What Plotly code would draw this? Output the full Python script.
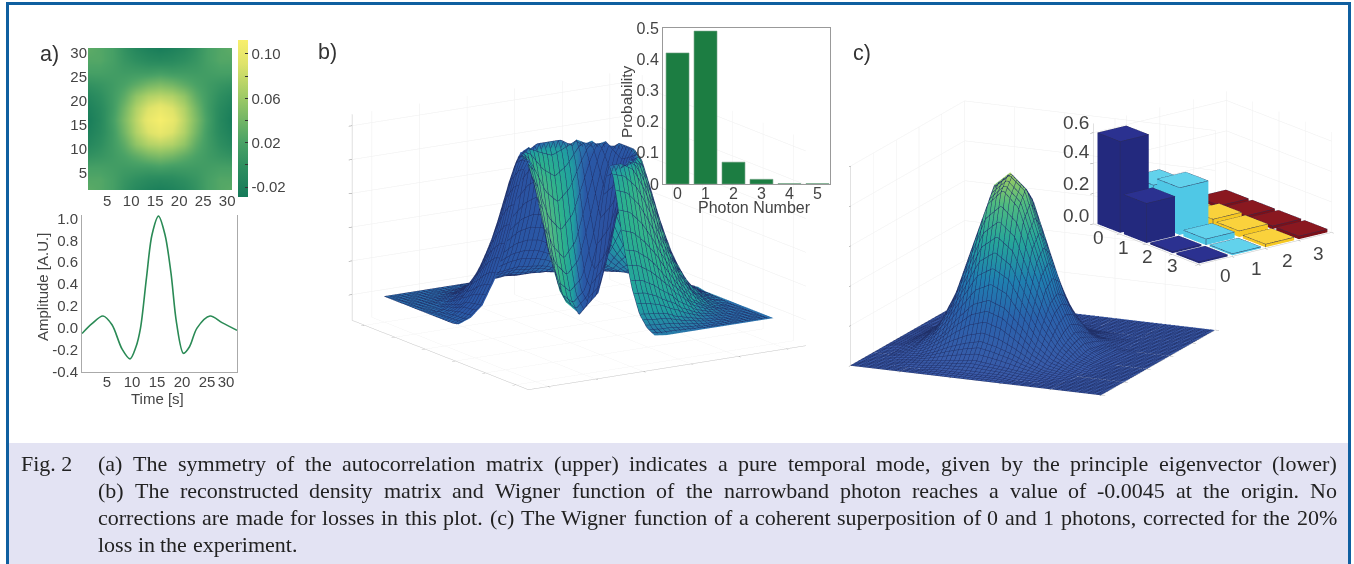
import numpy as np
import plotly.graph_objects as go

W, H = 1354, 564
def px(x): return x / W
def py(y): return 1 - y / H

# ---------- data ----------
heat_axis = [1, 3.5, 6, 8.5, 11, 13.5, 16, 18.5, 21, 23.5, 26, 28.5, 31]
heat_quadrant = [
    [.11, .10, .075, .045, .015, -.01, -.025],
    [.10, .09, .07, .04, .012, -.008, -.02],
    [.075, .07, .055, .03, .012, -.002, -.012],
    [.045, .04, .03, .02, .012, .006, .002],
    [.015, .012, .012, .012, .015, .018, .018],
    [-.01, -.008, -.002, .006, .018, .025, .025],
    [-.025, -.02, -.012, .002, .018, .025, .03],
]
time_s = [0, 2, 4.2, 6, 8, 9.6, 10.8, 11.7, 12.9, 14, 15.3, 16.6, 17.8, 18.9, 20.3, 21.5, 23, 25.6, 28, 31]
amplitude = [-.05, .04, .11, .03, -.19, -.28, -.17, 0, .46, .85, 1.02, .85, .5, .05, -.23, -.17, .0, .11, .05, -.02]
photon_number = [0, 1, 2, 3, 4, 5]
probability = [.42, .49, .07, .015, .001, .001]

# Wigner function of panel b: one quadrant, rotationally symmetric in the picture
wigner_b_nodes = [0, .5, 1, 1.25, 1.5, 1.75, 2, 2.25, 2.5, 2.75, 3, 3.5, 4, 4.5, 5]
wigner_b_quadrant = [
    [-.05, .03, .28, .50, .72, .90, 1.0, .94, .80, .64, .49, .26, .11, .04, .01],
    [.03, .10, .38, .59, .79, .94, 1.0, .91, .77, .61, .47, .25, .10, .03, 0],
    [.28, .38, .66, .80, .93, 1.0, .95, .82, .68, .53, .41, .21, .09, .03, 0],
    [.50, .59, .80, .91, .98, .98, .88, .75, .61, .48, .37, .18, .08, .02, 0],
    [.72, .79, .93, .98, .99, .91, .80, .67, .54, .43, .32, .16, .06, .02, 0],
    [.90, .94, 1.0, .98, .91, .81, .70, .58, .46, .36, .27, .14, .05, .01, 0],
    [1.0, 1.0, .95, .88, .80, .70, .59, .48, .39, .30, .22, .10, .04, .01, 0],
    [.94, .91, .82, .75, .67, .58, .48, .40, .32, .24, .18, .08, .03, 0, 0],
    [.80, .77, .68, .61, .54, .46, .39, .32, .25, .18, .14, .06, .02, 0, 0],
    [.64, .61, .53, .48, .43, .36, .30, .24, .18, .14, .09, .04, .01, 0, 0],
    [.49, .47, .41, .37, .32, .27, .22, .18, .14, .09, .07, .03, .01, 0, 0],
    [.26, .25, .21, .18, .16, .14, .10, .08, .06, .04, .03, .01, 0, 0, 0],
    [.11, .10, .09, .08, .06, .05, .04, .03, .02, .01, .01, 0, 0, 0, 0],
    [.04, .03, .03, .02, .02, .01, .01, 0, 0, 0, 0, 0, 0, 0, 0],
    [.01, 0, 0, 0, 0, 0, 0, 0, 0, 0, 0, 0, 0, 0, 0],
]

wigner_c_axis = [0, .0625, .125, .1875, .25, .3125, .375, .4375, .5, .5625, .625, .6875, .75, .8125, .875, .9375, 1]
wigner_c = [
    [0] * 17,
    [0, 0, 0, 0, 0, .01, .01, .01, .01, .01, 0, 0, 0, 0, 0, 0, 0],
    [0, 0, 0, .01, .02, .03, .04, .05, .04, .03, .02, .01, 0, 0, 0, 0, 0],
    [0, 0, .01, .02, .05, .09, .12, .14, .12, .09, .05, .02, .01, 0, 0, 0, 0],
    [0, 0, .02, .05, .11, .20, .28, .31, .28, .20, .11, .05, .02, 0, 0, 0, 0],
    [0, .01, .03, .09, .20, .35, .51, .57, .51, .35, .20, .09, .03, .01, 0, 0, 0],
    [0, .01, .04, .12, .28, .51, .74, .82, .74, .51, .28, .12, .04, .01, 0, 0, 0],
    [0, .01, .05, .14, .31, .57, .82, .89, .82, .57, .31, .14, .05, .01, 0, 0, 0],
    [0, .01, .04, .12, .28, .51, .74, .82, .74, .51, .28, .12, .04, .01, 0, 0, 0],
    [0, .01, .03, .09, .20, .35, .51, .57, .51, .35, .20, .09, .03, .01, 0, 0, 0],
    [0, 0, .02, .05, .11, .20, .28, .31, .28, .20, .11, .05, .02, 0, 0, 0, 0],
    [0, 0, .01, .02, .05, .09, .12, .14, .12, .09, .05, .02, .01, 0, 0, 0, 0],
    [0, 0, 0, .01, .02, .03, .04, .05, .04, .03, .02, .01, 0, 0, 0, 0, 0],
    [0, 0, 0, 0, 0, .01, .01, .01, .01, .01, 0, 0, 0, 0, 0, 0, 0],
    [0] * 17,
    [0] * 17,
    [0] * 17,
]

density_labels = [0, 1, 2, 3]
density_c = [
    [.60, .26, .02, .02],
    [.26, .31, .05, .02],
    [.01, .04, .04, .02],
    [.01, .01, .02, .02],
]
column_colors = ["#23297e", "#4fc8e6", "#f6c822", "#7c1018"]
top_colors = ["#2b3190", "#62d2ec", "#fad23c", "#8a1820"]

caption = [
    "(a) The symmetry of the autocorrelation matrix (upper) indicates a pure temporal mode, given by the principle eigenvector (lower)",
    "(b) The reconstructed density matrix and Wigner function of the narrowband photon reaches a value of -0.0045 at the origin. No",
    "corrections are made for losses in this plot. (c) The Wigner function of a coherent superposition of 0 and 1 photons, corrected for the 20%",
    "loss in the experiment.",
]

TIMES = dict(a=.444, b=.5, c=.444, d=.5, e=.444, f=.333, g=.5, h=.5, i=.278, j=.278, k=.5, l=.278, m=.778, n=.5, o=.5,
             p=.5, q=.5, r=.333, s=.389, t=.278, u=.5, v=.5, w=.722, x=.5, y=.5, z=.444, T=.611, N=.722, W=.944)
TIMES.update({"(": .333, ")": .333, ",": .25, ".": .25, "-": .333, "%": .833, " ": .25})
TIMES.update({d: .5 for d in "0123456789"})


def mirror(q):
    q = np.array(q, dtype=float)
    return np.vstack([np.hstack([q[::-1, ::-1][:-1, :-1], q[::-1][:-1]]),
                      np.hstack([q[:, ::-1][:, :-1], q])])


def box_axis(rng, ticks, line="#c4c4c4"):
    return dict(range=rng, tickvals=ticks, showticklabels=False, title=dict(text=""),
                showbackground=False, showgrid=True, gridcolor="#eeeeee", gridwidth=1,
                showline=True, linecolor=line, linewidth=1, zeroline=False,
                ticks="outside", ticklen=4, tickcolor="#888888", showspikes=False)


def view(eye):
    return dict(eye=dict(x=eye[0], y=eye[1], z=eye[2]), center=dict(x=0, y=0, z=0),
                up=dict(x=0, y=0, z=1), projection=dict(type="orthographic"))


FLAT = dict(ambient=1, diffuse=0, specular=0, roughness=1, fresnel=0)
TXT = "#444444"
SANS = "Liberation Sans"

fig = go.Figure()

# ---------- a) heat map ----------
fig.add_trace(go.Heatmap(
    x=heat_axis, y=heat_axis, z=mirror(heat_quadrant), zsmooth="best", zmin=-.029, zmax=.1126,
    colorscale=[[0, "#157a59"], [.2, "#2f8f60"], [.35, "#4aa266"], [.63, "#9cc966"], [.85, "#dfe36a"], [1, "#f8ef6c"]],
    xaxis="x", yaxis="y", hoverinfo="skip",
    colorbar=dict(thickness=10, thicknessmode="pixels", len=157, lenmode="pixels",
                  x=px(238), xanchor="left", y=py(118.5), yanchor="middle", xpad=0, ypad=0,
                  outlinewidth=0, tickmode="array",
                  tickvals=[.10, .08, .06, .04, .02, 0, -.02],
                  ticktext=["0.10", " ", "0.06", " ", "0.02", " ", "-0.02"],
                  ticks="inside", ticklen=3, tickcolor="#333333",
                  tickfont=dict(family=SANS, size=15, color=TXT)),
))

# ---------- a) temporal mode ----------
fig.add_trace(go.Scatter(x=time_s, y=amplitude, mode="lines", xaxis="x2", yaxis="y2",
                         line=dict(color="#2a8a55", width=1.6, shape="spline", smoothing=.9),
                         hoverinfo="skip"))

# ---------- b) inset bars ----------
fig.add_trace(go.Bar(x=photon_number, y=probability, width=.82, xaxis="x3", yaxis="y3",
                     marker=dict(color="#1c7d42", line=dict(color="#6f9f82", width=.6)), hoverinfo="skip"))

# ---------- b) surface ----------
z_b = mirror(wigner_b_quadrant)
ax_b = np.array([-n for n in wigner_b_nodes[:0:-1]] + wigner_b_nodes)
dz_dy, dz_dx = np.gradient(z_b, ax_b, ax_b)
EYE_B = np.array([.817, -.519, .25])
slope = -(dz_dx * .536 + dz_dy * .844)
shade = np.clip(slope / .75, -1, 1)
z_b_cut = z_b.copy()
shade_cut = shade.copy()
mask = np.ix_(ax_b < 0, ax_b > 0)
z_b_cut[mask] = np.nan
shade_cut[mask] = np.nan
mesh = "#203068"
fig.add_trace(go.Surface(
    x=ax_b, y=ax_b, z=z_b_cut, surfacecolor=shade_cut, cmin=-1, cmax=1, showscale=False, scene="scene",
    colorscale=[[0, "#2b4f9e"], [.42, "#2a58a6"], [.5, "#2a6fab"], [.6, "#20a0a0"], [.78, "#2db38c"], [1, "#58bb82"]],
    lighting=FLAT, hoverinfo="skip",
    contours=dict(x=dict(show=True, start=-5, end=5, size=.2, color=mesh, width=1),
                  y=dict(show=True, start=-5, end=5, size=.2, color=mesh, width=1)),
))

# ---------- c) surface ----------
fig.add_trace(go.Surface(
    x=wigner_c_axis, y=wigner_c_axis, z=wigner_c, cmin=0, cmax=.89, showscale=False, scene="scene2",
    colorscale=[[0, "#3a5aa8"], [.25, "#2a62ac"], [.45, "#1f80b0"], [.65, "#25a59a"], [.85, "#4fbb80"], [1, "#a0cc60"]],
    lighting=FLAT, hoverinfo="skip",
    contours=dict(x=dict(show=True, start=0, end=1, size=1 / 56, color=mesh, width=1),
                  y=dict(show=True, start=0, end=1, size=1 / 56, color=mesh, width=1)),
))

# ---------- c) inset 3-D bars ----------
ex, ey, ez = [], [], []
half = .43
for a, row in zip(density_labels, density_c):
    for b, h in zip(density_labels, row):
        x0, x1, y0, y1 = a - half, a + half, b - half, b + half
        faces = [column_colors[b]] * 8 + [top_colors[b]] * 2 + [column_colors[b]] * 2
        fig.add_trace(go.Mesh3d(
            x=[x0, x1, x1, x0, x0, x1, x1, x0], y=[y0, y0, y1, y1, y0, y0, y1, y1], z=[0, 0, 0, 0, h, h, h, h],
            i=[0, 0, 1, 1, 2, 2, 3, 3, 4, 4, 0, 0], j=[1, 5, 2, 6, 3, 7, 0, 4, 5, 6, 1, 2], k=[5, 4, 6, 5, 7, 6, 4, 7, 6, 7, 2, 3],
            facecolor=faces, flatshading=True, lighting=FLAT, hoverinfo="skip", scene="scene3"))
        for px0, py0, px1, py1 in [(x0, y0, x1, y0), (x1, y0, x1, y1), (x1, y1, x0, y1), (x0, y1, x0, y0)]:
            ex += [px0, px1, None]; ey += [py0, py1, None]; ez += [h, h, None]
        ex += [x1, x1, None]; ey += [y0, y0, None]; ez += [0, h, None]
fig.add_trace(go.Scatter3d(x=ex, y=ey, z=ez, mode="lines", line=dict(color="#2a2a50", width=1),
                           hoverinfo="skip", scene="scene3"))

# ---------- text ----------
ann = []
def label(x, y, text, size=15, color=TXT, family=SANS, anchor="center", angle=0):
    ann.append(dict(xref="paper", yref="paper", x=px(x), y=py(y), text=text, showarrow=False,
                    xanchor=anchor, yanchor="middle", textangle=angle, borderpad=0, borderwidth=0,
                    font=dict(family=family, size=size, color=color)))

label(49, 54, "a)", 21.5, "#333333")
label(327, 52, "b)", 21.5, "#333333")
label(862, 53, "c)", 21.5, "#333333")
label(42, 287, "Amplitude [A.U.]", 15, angle=-90)
label(157, 398, "Time [s]", 15)
label(627, 102, "Probability", 15.5, angle=-90)
label(754, 207, "Photon Number", 16)

for i, t in enumerate(density_labels):
    label([1098, 1123, 1147, 1172][i], [237, 247, 256, 265][i], str(t), 19)
    label([1225, 1256, 1287, 1318][i], [275, 268, 260, 253][i], str(t), 19)
for val, y0 in zip(["0.6", "0.4", "0.2", "0.0"], [122, 152, 183, 215]):
    label(1063, y0, val, 19, anchor="left")

SERIF = "Liberation Serif"
CAP = 22
label(21, 463, "Fig. 2", CAP, "#222222", SERIF, "left")
for li, (t, y0) in enumerate(zip(caption, [463, 490, 517, 544])):
    words = t.split(" ")
    widths = [sum(TIMES[c] for c in w) * CAP for w in words]
    gap = (1239 - sum(widths)) / (len(words) - 1) if li < 3 else .25 * CAP
    x = 98.0
    for w, wd in zip(words, widths):
        label(x, y0, w, CAP, "#222222", SERIF, "left")
        x += wd + gap

axis_font = dict(family=SANS, size=15, color=TXT)
bar_font = dict(family=SANS, size=16, color=TXT)

fig.update_layout(
    width=W, height=H, margin=dict(l=0, r=0, t=0, b=0, autoexpand=False), autosize=False,
    paper_bgcolor="white", plot_bgcolor="white", showlegend=False, hovermode=False,
    annotations=ann,
    shapes=[
        dict(type="rect", xref="paper", yref="paper", x0=px(9), x1=px(1349), y0=py(564), y1=py(443),
             fillcolor="#e3e3f3", line=dict(width=0), layer="below"),
        dict(type="rect", xref="paper", yref="paper", x0=px(7.5), x1=px(1349.5), y0=py(566), y1=py(3.5),
             fillcolor="rgba(0,0,0,0)", line=dict(color="#0f5fa0", width=3), layer="above"),
    ],
    xaxis=dict(domain=[px(88), px(232)], range=[1, 31], tickvals=[5, 10, 15, 20, 25, 30], ticks="",
               showgrid=False, zeroline=False, tickfont=axis_font, anchor="y"),
    yaxis=dict(domain=[py(190), py(48)], range=[1.4, 31], tickvals=[5, 10, 15, 20, 25, 30], ticks="",
               showgrid=False, zeroline=False, tickfont=axis_font, anchor="x"),
    xaxis2=dict(domain=[px(82), px(237)], range=[0, 31], tickvals=[5, 10, 15, 20, 25, 28.8],
                ticktext=["5", "10", "15", "20", "25", "30"], showgrid=False, zeroline=False, ticklabelstandoff=-4,
                showline=True, linecolor="#aaaaaa", tickfont=axis_font, ticks="", anchor="y2"),
    yaxis2=dict(domain=[py(372), py(215)], range=[-.4, 1.03], tickvals=[-.4, -.2, 0, .2, .4, .6, .8, 1.0],
                ticktext=["-0.4", "-0.2", "0.0", "0.2", "0.4", "0.6", "0.8", "1.0"], showgrid=False,
                zeroline=False, showline=True, mirror=True, linecolor="#aaaaaa", tickfont=axis_font, ticks="", anchor="x2"),
    xaxis3=dict(domain=[px(663), px(830)], range=[-.52, 5.45], tickvals=photon_number, showgrid=False, zeroline=False,
                ticklabelstandoff=-5, showline=True, mirror=True, linecolor="#999999", tickfont=bar_font, ticks="", anchor="y3"),
    yaxis3=dict(domain=[py(184), py(28)], range=[0, .5], tickvals=[0, .1, .2, .3, .4, .5],
                ticktext=["0", "0.1", "0.2", "0.3", "0.4", "0.5"], showgrid=False, zeroline=False,
                showline=True, mirror=True, linecolor="#999999", tickfont=bar_font, ticks="", anchor="x3"),
    scene=dict(domain=dict(x=[px(299), px(859)], y=[py(420), py(40)]),
               xaxis=box_axis([-5.83, 5.83], [-5, -3, -1, 1, 3, 5]),
               yaxis=box_axis([-5.83, 5.83], [-5, -3, -1, 1, 3, 5]),
               zaxis=box_axis([-.168, 1.174], [0, .22, .44, .66, .88, 1.1]),
               aspectmode="manual", aspectratio=dict(x=1.73, y=1.73, z=1.12),
               camera=view(EYE_B * 2)),
    scene2=dict(domain=dict(x=[px(813), px(1253)], y=[py(418), py(78)]),
                xaxis=box_axis([0, 1], [0, .2, .4, .6, .8, 1]),
                yaxis=box_axis([0, 1], [0, .2, .4, .6, .8, 1]),
                zaxis=box_axis([0, 1], [0, .2, .4, .6, .8, 1]),
                aspectmode="manual", aspectratio=dict(x=1.62, y=1.62, z=1.215),
                camera=view(np.array([.40, -.88, .26]) * 2)),
    scene3=dict(domain=dict(x=[px(1090), px(1335)], y=[py(300), py(56)]),
                xaxis=box_axis([-.5, 3.5], [-.5, .5, 1.5, 2.5, 3.5]),
                yaxis=box_axis([-.5, 3.5], [-.5, .5, 1.5, 2.5, 3.5]),
                zaxis=box_axis([0, .66], [0, .2, .4, .6]),
                aspectmode="manual", aspectratio=dict(x=1.39, y=1.39, z=.864),
                camera=view(np.array([.747, -.59, .306]) * 2)),
)

# the reference's inset panel sits in front of the surface's grid, so the 2-D layer goes over the WebGL layer
raise_2d = """
var liftInset = function () {
  document.body.style.margin = '0';
  var svgs = document.querySelectorAll('.main-svg');
  var gl = document.querySelector('.gl-container');
  var box = document.querySelector('.svg-container');
  if (!svgs.length || !gl || !box) { return; }
  box.style.background = 'white';
  svgs[0].style.background = 'transparent';
  gl.style.zIndex = 1;
  svgs[0].style.zIndex = 2;
  for (var n = 1; n < svgs.length; n++) { svgs[n].style.zIndex = 3; }
};
liftInset(); setTimeout(liftInset, 100); setTimeout(liftInset, 500);
"""
fig.write_html("out.html", config=dict(displayModeBar=False), post_script=raise_2d)
